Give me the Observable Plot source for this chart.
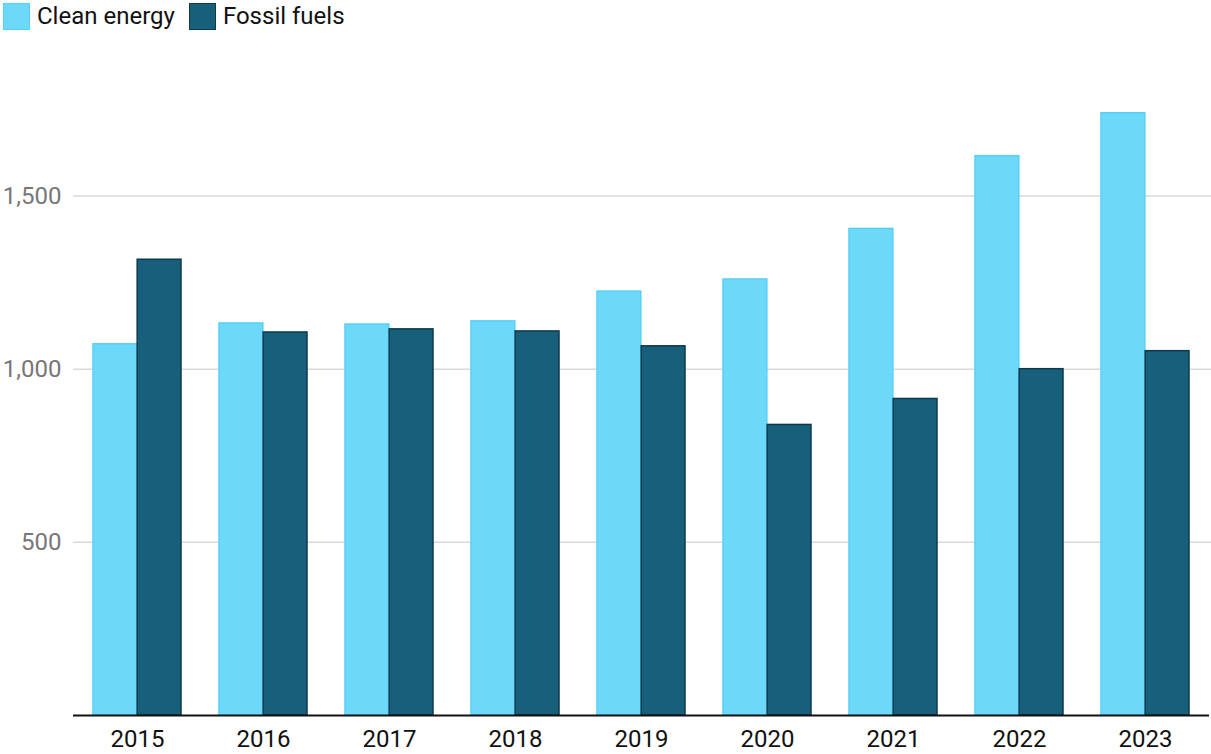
<!DOCTYPE html>
<html>
<head>
<meta charset="utf-8">
<script src="https://cdn.jsdelivr.net/npm/d3@7"></script>
<script src="https://cdn.jsdelivr.net/npm/@observablehq/plot@0.6"></script>
<style>
  body { margin: 0; background: #fff; font-family: Roboto, "Noto Sans", sans-serif; }
  #legend { height: 32px; display: flex; align-items: center; gap: 14px; padding-left: 3px; font-size: 24px; color: #111; }
  .item { display: flex; align-items: center; gap: 7px; }
  .sw { width: 27px; height: 27px; box-sizing: border-box; }
</style>
</head>
<body>
<div id="legend"></div>
<div id="chart"></div>
<script>
const years = ["2015","2016","2017","2018","2019","2020","2021","2022","2023"];
const seriesNames = ["Clean energy", "Fossil fuels"];
const cleanEnergy = [1072, 1132, 1129, 1138, 1224, 1259, 1405, 1615, 1739];
const fossilFuels = [1316, 1106, 1115, 1109, 1066, 839, 914, 1000, 1052];
const yTicks = [500, 1000, 1500];

const fills = ["#6cd9fb", "#175f7a"];
const strokes = ["#55d0f5", "#0c3a4d"];

const cleanData = years.map((y, i) => ({year: y, value: cleanEnergy[i]}));
const fossilData = years.map((y, i) => ({year: y, value: fossilFuels[i]}));

const legend = document.getElementById("legend");
seriesNames.forEach((s, i) => {
  const it = document.createElement("div");
  it.className = "item";
  it.innerHTML = `<span class="sw" style="background:${fills[i]};border:1.5px solid ${strokes[i]}"></span><span>${s}</span>`;
  legend.appendChild(it);
});

const W = 1211, mL = 73, mR = 2;
const step = (W - mL - mR) / (years.length - 0.3 + 0.3);
const half = step * 0.7 / 2;

const chart = Plot.plot({
  width: W,
  height: 722,
  marginLeft: mL,
  marginRight: mR,
  marginTop: 25,
  marginBottom: 39,
  style: { fontFamily: "Roboto, sans-serif", fontSize: "24px", background: "#fff", overflow: "visible" },
  x: { domain: years, paddingInner: 0.3, paddingOuter: 0.15, label: null },
  y: { domain: [0, 1900], label: null },
  marks: [
    Plot.ruleY(yTicks, { stroke: "#d9d9d9", strokeWidth: 1.5, insetRight: -mR }),
    Plot.barY(cleanData, { x: "year", y: "value", fill: fills[0], stroke: strokes[0], strokeWidth: 1.5, insetRight: half }),
    Plot.barY(fossilData, { x: "year", y: "value", fill: fills[1], stroke: strokes[1], strokeWidth: 1.5, insetLeft: half }),
    Plot.axisY(yTicks, { tickFormat: d3.format(","), tickSize: 0, tickPadding: 12, fill: "#777", fontSize: 24, anchor: "left", label: null }),
    Plot.axisX({ tickSize: 0, tickPadding: 14, fill: "#111", fontSize: 24, anchor: "bottom", label: null }),
    Plot.ruleY([0], { stroke: "#111", strokeWidth: 2 })
  ]
});
document.getElementById("chart").appendChild(chart);
</script>
</body>
</html>
